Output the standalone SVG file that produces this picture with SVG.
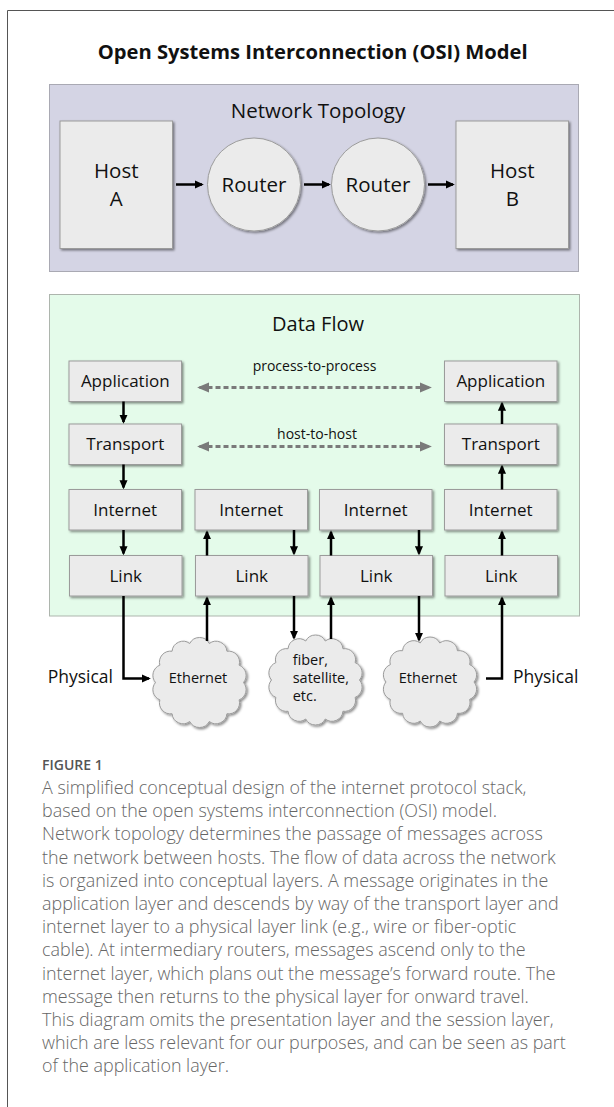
<svg xmlns="http://www.w3.org/2000/svg" width="614" height="1107" viewBox="0 0 614 1107">
  <style>
    .sans { font-family: "Open Sans", "Liberation Sans", sans-serif; }
    .node { fill: #ebebeb; stroke: #9b9b9b; stroke-width: 1; filter: url(#shadow); }
    .lbl { font-family: "Open Sans", "Liberation Sans", sans-serif; fill: #111; text-anchor: middle; }
    .big { font-size: 20.5px; }
    .layer { font-size: 17px; }
    .small { font-size: 14.5px; }
    .arrow { fill: none; stroke: #000; stroke-width: 2.5; marker-end: url(#head); }
    .dash { fill: none; stroke: #7a7a7a; stroke-width: 3; stroke-dasharray: 5 3; marker-start: url(#ghead); marker-end: url(#ghead); }
    .cap { font-family: "Open Sans", "Liberation Sans", sans-serif; font-size: 17.9px; font-weight: 300; fill: #666; }
  </style>
  <defs>
    <filter id="shadow" x="-10%" y="-10%" width="130%" height="130%">
      <feDropShadow dx="1.5" dy="1.5" stdDeviation="1" flood-color="#000" flood-opacity="0.45"/>
    </filter>
    <marker id="head" markerUnits="userSpaceOnUse" markerWidth="9" markerHeight="9" viewBox="0 0 10 10" refX="8" refY="5" orient="auto">
      <path d="M0,0.5 L10,5 L0,9.5 z" fill="#000"/>
    </marker>
    <marker id="ghead" markerUnits="userSpaceOnUse" markerWidth="12" markerHeight="12" viewBox="0 0 10 10" refX="8" refY="5" orient="auto-start-reverse">
      <path d="M0,0.8 L10,5 L0,9.2 z" fill="#7a7a7a"/>
    </marker>
    <!-- scalloped cloud outline centred on 0,0 -->
    <path id="cloud" d="M44,0 A11,11 0 0 1 39.64,17.36 A11,11 0 0 1 27.43,31.27 A11,11 0 0 1 9.79,39 A11,11 0 0 1 -9.79,39 A11,11 0 0 1 -27.43,31.27 A11,11 0 0 1 -39.64,17.36 A11,11 0 0 1 -44,0 A11,11 0 0 1 -39.64,-17.36 A11,11 0 0 1 -27.43,-31.27 A11,11 0 0 1 -9.79,-39 A11,11 0 0 1 9.79,-39 A11,11 0 0 1 27.43,-31.27 A11,11 0 0 1 39.64,-17.36 A11,11 0 0 1 44,0 Z"/>
  </defs>

  <rect width="614" height="1107" fill="#fff"/>
  <!-- figure frame -->
  <path d="M7.5,1107 V10.5 H614" fill="none" stroke="#555" stroke-width="1"/>

  <text class="sans" x="312.7" y="59" font-size="20" font-weight="700" fill="#111" text-anchor="middle" textLength="430" lengthAdjust="spacingAndGlyphs">Open Systems Interconnection (OSI) Model</text>

  <!-- Network topology panel -->
  <g id="topology-panel">
    <rect x="49.5" y="84.5" width="529" height="187" fill="#d4d4e4" stroke="#a9a9b3"/>
    <text class="lbl" x="318" y="118" font-size="20.5">Network Topology</text>
  </g>
  <g id="host-a">
    <rect class="node" x="60" y="121" width="112.5" height="127.5"/>
    <text class="lbl big" x="116.25" y="178">Host</text>
    <text class="lbl big" x="116.25" y="206">A</text>
  </g>
  <g id="router-1">
    <circle class="node" cx="254" cy="184.5" r="46.5"/>
    <text class="lbl big" x="254" y="191.5">Router</text>
  </g>
  <g id="router-2">
    <circle class="node" cx="378" cy="184.5" r="46.5"/>
    <text class="lbl big" x="378" y="191.5">Router</text>
  </g>
  <g id="host-b">
    <rect class="node" x="456" y="121" width="112.5" height="127.5"/>
    <text class="lbl big" x="512.25" y="178">Host</text>
    <text class="lbl big" x="512.25" y="206">B</text>
  </g>

  <!-- Data flow panel -->
  <g id="dataflow-panel">
    <rect x="49.5" y="294.5" width="530" height="321.5" fill="#e4fbea" stroke="#adb5ad"/>
    <text class="lbl" x="318" y="330.5" font-size="20">Data Flow</text>
  </g>

  <g id="app-a"><rect class="node" x="69" y="361" width="112.5" height="40.5"/><text class="lbl layer" x="125.25" y="387.3">Application</text></g>
  <g id="app-b"><rect class="node" x="444.5" y="361" width="112.5" height="40.5"/><text class="lbl layer" x="500.75" y="387.3">Application</text></g>
  <g id="transport-a"><rect class="node" x="69" y="424" width="112.5" height="40.5"/><text class="lbl layer" x="125.25" y="450.3">Transport</text></g>
  <g id="transport-b"><rect class="node" x="444.5" y="424" width="112.5" height="40.5"/><text class="lbl layer" x="500.75" y="450.3">Transport</text></g>

  <g id="internet-1"><rect class="node" x="69" y="489.5" width="112.5" height="40.5"/><text class="lbl layer" x="125.25" y="515.8">Internet</text></g>
  <g id="internet-2"><rect class="node" x="195" y="489.5" width="112.5" height="40.5"/><text class="lbl layer" x="251.25" y="515.8">Internet</text></g>
  <g id="internet-3"><rect class="node" x="319.5" y="489.5" width="112.5" height="40.5"/><text class="lbl layer" x="375.75" y="515.8">Internet</text></g>
  <g id="internet-4"><rect class="node" x="444.5" y="489.5" width="112.5" height="40.5"/><text class="lbl layer" x="500.75" y="515.8">Internet</text></g>

  <g id="link-1"><rect class="node" x="69.5" y="555.5" width="112.5" height="40.5"/><text class="lbl layer" x="125.75" y="581.8">Link</text></g>
  <g id="link-2"><rect class="node" x="195.5" y="555.5" width="112.5" height="40.5"/><text class="lbl layer" x="251.75" y="581.8">Link</text></g>
  <g id="link-3"><rect class="node" x="320" y="555.5" width="112.5" height="40.5"/><text class="lbl layer" x="376.25" y="581.8">Link</text></g>
  <g id="link-4"><rect class="node" x="445" y="555.5" width="112.5" height="40.5"/><text class="lbl layer" x="501.25" y="581.8">Link</text></g>

  <!-- physical media -->
  <g id="cloud-ethernet-1">
    <use href="#cloud" x="199.5" y="682.5" class="node"/>
    <text class="lbl small" x="198" y="683">Ethernet</text>
  </g>
  <g id="cloud-fiber">
    <use href="#cloud" x="315.5" y="680" class="node"/>
    <text class="sans small" x="292.7" y="665" fill="#111">fiber,</text>
    <text class="sans small" x="292.7" y="683" fill="#111">satellite,</text>
    <text class="sans small" x="292.7" y="700.5" fill="#111">etc.</text>
  </g>
  <g id="cloud-ethernet-2">
    <use href="#cloud" x="430" y="682" class="node"/>
    <text class="lbl small" x="428" y="683">Ethernet</text>
  </g>
  <g id="physical-labels">
    <text class="sans" x="113" y="683" font-size="17.5" fill="#111" text-anchor="end">Physical</text>
    <text class="sans" x="513" y="683" font-size="17.5" fill="#111">Physical</text>
  </g>

  <!-- connectors -->
  <g id="connectors">
    <line class="arrow" x1="176" y1="184.5" x2="202" y2="184.5"/>
    <line class="arrow" x1="304" y1="184.5" x2="329" y2="184.5"/>
    <line class="arrow" x1="428" y1="184.5" x2="453" y2="184.5"/>

    <line class="dash" x1="199.5" y1="387.5" x2="429.5" y2="387.5"/>
    <line class="dash" x1="199.5" y1="446.5" x2="429.5" y2="446.5"/>

    <line class="arrow" x1="123.5" y1="401.5" x2="123.5" y2="422"/>
    <line class="arrow" x1="123.5" y1="464.5" x2="123.5" y2="487.5"/>
    <line class="arrow" x1="123.5" y1="530" x2="123.5" y2="553.5"/>

    <line class="arrow" x1="207" y1="555.5" x2="207" y2="532"/>
    <line class="arrow" x1="294" y1="530" x2="294" y2="553.5"/>
    <line class="arrow" x1="331" y1="555.5" x2="331" y2="532"/>
    <line class="arrow" x1="419" y1="530" x2="419" y2="553.5"/>

    <line class="arrow" x1="502" y1="424" x2="502" y2="403.5"/>
    <line class="arrow" x1="502" y1="489.5" x2="502" y2="466.5"/>
    <line class="arrow" x1="502" y1="555.5" x2="502" y2="532"/>

    <polyline class="arrow" points="123.5,596 123.5,678.5 149,678.5"/>
    <line class="arrow" x1="207" y1="641" x2="207" y2="598"/>
    <line class="arrow" x1="294" y1="596" x2="294" y2="638"/>
    <line class="arrow" x1="331" y1="639" x2="331" y2="598"/>
    <line class="arrow" x1="419" y1="596" x2="419" y2="640"/>
    <polyline class="arrow" points="486,678.5 502,678.5 502,598"/>
  </g>
  <g id="edge-labels">
    <text class="lbl" x="314.5" y="371" font-size="14" fill="#222">process-to-process</text>
    <text class="lbl" x="317" y="439" font-size="14" fill="#222">host-to-host</text>
  </g>

  <!-- caption -->
  <g id="caption">
    <text class="sans" x="42" y="770" font-size="14" font-weight="600" fill="#555">FIGURE 1</text>
    <text class="cap" x="42" y="794">A simplified conceptual design of the internet protocol stack,</text>
    <text class="cap" x="42" y="817.2">based on the open systems interconnection (OSI) model.</text>
    <text class="cap" x="42" y="840.4">Network topology determines the passage of messages across</text>
    <text class="cap" x="42" y="863.6">the network between hosts. The flow of data across the network</text>
    <text class="cap" x="42" y="886.8">is organized into conceptual layers. A message originates in the</text>
    <text class="cap" x="42" y="910">application layer and descends by way of the transport layer and</text>
    <text class="cap" x="42" y="933.2">internet layer to a physical layer link (e.g., wire or fiber-optic</text>
    <text class="cap" x="42" y="956.4">cable). At intermediary routers, messages ascend only to the</text>
    <text class="cap" x="42" y="979.6">internet layer, which plans out the message’s forward route. The</text>
    <text class="cap" x="42" y="1002.8">message then returns to the physical layer for onward travel.</text>
    <text class="cap" x="42" y="1026">This diagram omits the presentation layer and the session layer,</text>
    <text class="cap" x="42" y="1049.2">which are less relevant for our purposes, and can be seen as part</text>
    <text class="cap" x="42" y="1072.4">of the application layer.</text>
  </g>
</svg>
